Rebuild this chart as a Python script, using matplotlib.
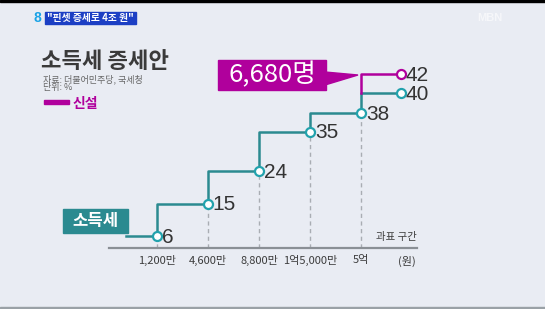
import numpy as np
import matplotlib.pyplot as plt
from matplotlib.patches import Rectangle, Polygon

plt.rcParams['font.family'] = ['Noto Sans CJK KR', 'DejaVu Sans']

# data
brackets = ['1,200만', '4,600만', '8,800만', '1억5,000만', '5억']
rates = [6, 15, 24, 35, 38]
top_old = 40
top_new = 42
new_payers = '6,680명'

TEAL = '#2b8a90'
MARK = '#22a2ad'
MAG = '#b0009c'
BG = '#e9ecf3'
TXT = '#333333'

W, H = 545, 309

def fx(px):
    return px / W

def fy(py):
    return 1 - py / H

# the graphic stretches the steps above 35%
u_nodes = [-100, 35, 40.2, 51.0, 51.0 + 58 * 2.7]
v_nodes = [-100, 35, 38, 42, 100]

def fwd(v):
    return np.interp(v, v_nodes, u_nodes)

def inv(u):
    return np.interp(u, u_nodes, v_nodes)

fig = plt.figure(figsize=(W / 100, H / 100), dpi=100, facecolor=BG)

# header strip
fig.add_artist(Rectangle((0, fy(2)), 1, 2 / H, transform=fig.transFigure, color='black'))
fig.add_artist(Rectangle((0, 0), 1, 2 / H, transform=fig.transFigure, color='#9aa1a6'))
fig.text(fx(33), fy(18), '8', color='#1aa3e6', fontsize=10, fontweight='bold', va='center',
         family=['Liberation Sans'])
fig.add_artist(Rectangle((fx(45), fy(24)), 91 / W, 12 / H, transform=fig.transFigure, color='#1c3fc4'))
fig.text(fx(90.5), fy(18), '"핀셋 증세로 4조 원"', color='white', fontsize=7, fontweight='bold',
         ha='center', va='center')
fig.text(fx(477), fy(18), 'MBN', color='#f6f7fa', fontsize=8, fontweight='bold', va='center',
         family=['Liberation Sans'])

# title block
fig.text(fx(41), fy(61), '소득세 증세안', color='#3a3a3a', fontsize=16, fontweight='bold', va='center')
fig.text(fx(43), fy(79), '자료: 더불어민주당, 국세청', color='#666666', fontsize=6.5, va='center')
fig.text(fx(43), fy(88), '단위: %', color='#666666', fontsize=6.5, va='center')
fig.add_artist(Rectangle((fx(44), fy(104)), 25 / W, 4 / H, transform=fig.transFigure, color=MAG))
fig.text(fx(73), fy(104), '신설', color=MAG, fontsize=10, fontweight='bold', va='center')

ax = fig.add_axes([fx(109), fy(248), 308 / W, 198 / H])
ax.set_facecolor('none')
ax.set_yscale('function', functions=(fwd, inv))
ax.set_xlim(-0.941, 5.098)
ymin = 2.667
ax.set_ylim(ymin, 44.47)

xs = np.arange(len(brackets))
end_x = 4.78

for s in ['top', 'left', 'right']:
    ax.spines[s].set_visible(False)
ax.spines['bottom'].set_color('#8a8f95')
ax.spines['bottom'].set_linewidth(1.6)
ax.set_yticks([])
ax.set_xticks(xs)
ax.set_xticklabels(brackets, fontsize=8, color='#3c3c3c')
ax.tick_params(axis='x', length=0, pad=5)
ax.minorticks_off()

ax.vlines(xs, ymin, rates, colors='#a9adb3', linestyles=(0, (3, 2.5)), linewidth=1, zorder=1)

step_x = [-0.6] + list(xs) + [end_x]
step_y = [rates[0]] + rates + [top_old]
ax.plot(step_x, step_y, drawstyle='steps-pre', color=TEAL, linewidth=1.8, zorder=2)
ax.plot([xs[-1], end_x], [top_old, top_new], drawstyle='steps-pre', color=MAG, linewidth=1.8, zorder=2)

ax.plot(list(xs) + [end_x], rates + [top_old], 'o', color=MARK, markerfacecolor='white',
        markersize=6.5, markeredgewidth=1.6, zorder=3)
ax.plot([end_x], [top_new], 'o', color=MAG, markerfacecolor='white',
        markersize=6.5, markeredgewidth=1.6, zorder=3)

for x, v in zip(list(xs) + [end_x, end_x], rates + [top_old, top_new]):
    ax.annotate(str(v), (x, v), xytext=(3.5, -1), textcoords='offset points', fontsize=15,
                color=TXT, va='center', ha='left', family=['Liberation Sans'])

ax.text(1.0, 0.03, '과표 구간', transform=ax.transAxes, ha='right', va='bottom', fontsize=7.5,
        color='#3c3c3c')
ax.annotate('(원)', (4.9, ymin), xytext=(0, -13), textcoords='offset pixels', ha='center',
            va='center', fontsize=8, color='#3c3c3c', annotation_clip=False)

# 소득세 tag
fig.add_artist(Rectangle((fx(63), fy(233)), 65 / W, 24 / H, transform=fig.transFigure, color=TEAL))
fig.text(fx(95.5), fy(221), '소득세', color='white', fontsize=12, fontweight='bold',
         ha='center', va='center')

# callout for new bracket
fig.add_artist(Polygon([(fx(325), fy(72)), (fx(325), fy(85)), (fx(358), fy(75))],
                       closed=True, transform=fig.transFigure, color=MAG))
fig.add_artist(Rectangle((fx(218), fy(90)), 108 / W, 30 / H, transform=fig.transFigure, color=MAG))
fig.text(fx(272), fy(75), new_payers, color='white', fontsize=18.5, ha='center', va='center')

fig.savefig('out.png', dpi=100, facecolor=BG)
